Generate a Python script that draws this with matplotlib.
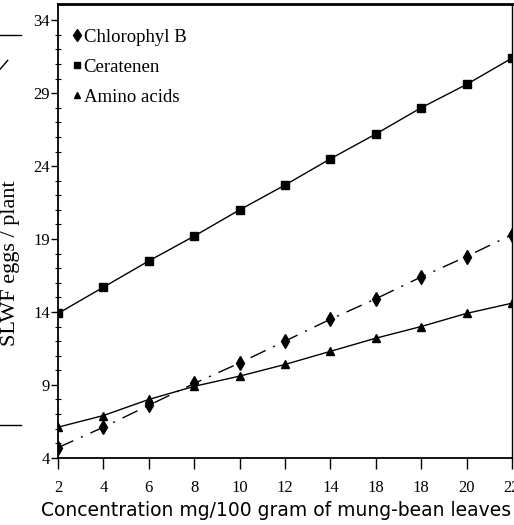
import numpy as np
import matplotlib
matplotlib.use('Agg')
import matplotlib.pyplot as plt
from matplotlib.lines import Line2D

# concentration (mg/100 g of leaves) and tick labels as printed
conc = [2, 4, 6, 8, 10, 12, 14, 16, 18, 20, 22]
tick_labels = ['2', '4', '6', '8', '10', '12', '14', '18', '18', '20', '22']

# SLWF eggs per plant
chlorophyl_b = [4.7, 6.1, 7.6, 9.1, 10.5, 12.0, 13.5, 14.9, 16.4, 17.8, 19.3]
ceratenen = [13.9, 15.7, 17.5, 19.2, 21.0, 22.7, 24.5, 26.2, 28.0, 29.6, 31.4]
amino_acids = [6.1, 6.9, 8.0, 8.9, 9.6, 10.4, 11.3, 12.2, 13.0, 13.9, 14.6]

series_names = ['Chlorophyl B', 'Ceratenen', 'Amino acids']

serif = ['Liberation Serif', 'DejaVu Serif']


def Main():
    fig = plt.figure(figsize=(5.14, 5.25), dpi=100)
    ax = fig.add_axes([0.113, 0.128, 0.883, 0.864])

    # chlorophyl: dash-dot line with diamonds
    ax.plot(conc, chlorophyl_b, color='black', lw=1.0, ls=(0, (12, 6, 1.5, 6)),
            marker='d', ms=7, mfc='black', mec='black')
    # ceratenen: solid line with squares
    ax.plot(conc, ceratenen, color='black', lw=1.0, marker='s', ms=5.5)
    # amino acids: solid line with triangles
    ax.plot(conc, amino_acids, color='black', lw=1.0, marker='^', ms=5.5)

    ax.set_xlim(2, 22)
    ax.set_ylim(4, 35.1)
    ax.set_xticks(conc)
    ax.set_xticklabels(tick_labels, fontfamily=serif, fontsize=12)
    ax.set_yticks(np.arange(4, 35, 5))
    ax.set_yticks(np.arange(4, 35, 1), minor=True)
    for lab in ax.get_yticklabels():
        lab.set_fontfamily(serif)
        lab.set_fontsize(12)
    ax.tick_params(axis='y', which='major', direction='out', length=5, width=1, pad=1)
    ax.tick_params(axis='y', which='minor', direction='inout', length=4, width=0.8)
    ax.tick_params(axis='x', which='major', direction='out', length=8, width=1, pad=8)

    ax.spines['left'].set_linewidth(1.3)
    ax.spines['bottom'].set_linewidth(1.3)
    ax.spines['top'].set_linewidth(2.0)
    ax.spines['right'].set_linewidth(1.0)

    ax.set_ylabel('SLWF eggs / plant', fontfamily=serif, fontsize=16)
    ax.yaxis.set_label_coords(-0.084, 0.43)
    ax.set_xlabel('Concentration mg/100 gram of mung-bean leaves', fontsize=13.5)
    ax.xaxis.set_label_coords(0.48, -0.095)

    # legend: markers only, tight to text
    handles = [Line2D([], [], ls='none', marker=m, color='black', ms=s)
               for m, s in zip(['d', 's', '^'], [6, 5, 5])]
    ax.legend(handles, series_names, loc='upper left', frameon=False,
              bbox_to_anchor=(0.017, 0.962), borderaxespad=0,
              handlelength=0.4, handletextpad=0.15, labelspacing=0.68,
              prop={'family': serif, 'size': 13.5})

    # scan leftovers at the left margin
    fig.add_artist(Line2D([0.0, 0.04], [0.933, 0.933], color='black', lw=1))
    fig.add_artist(Line2D([0.0, 0.015], [0.868, 0.885], color='black', lw=1))
    fig.add_artist(Line2D([0.0, 0.04], [0.19, 0.19], color='black', lw=1))

    fig.savefig('out.png', dpi=100)


if __name__ == '__main__':
    Main()
